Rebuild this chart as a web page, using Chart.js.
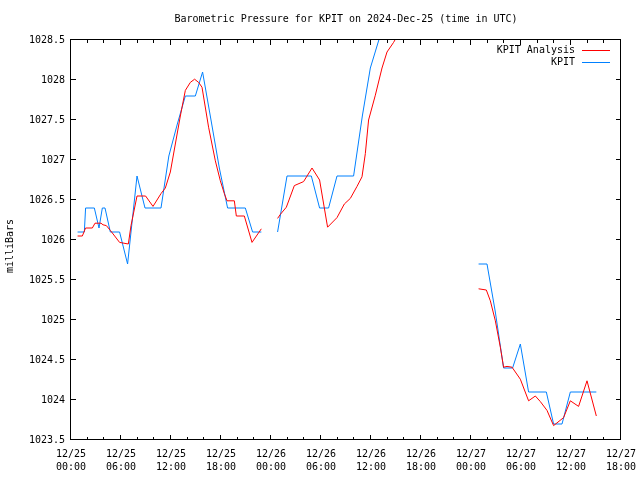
<!DOCTYPE html>
<html>
<head>
<meta charset="utf-8">
<script src="https://cdn.jsdelivr.net/npm/chart.js@4/dist/chart.umd.min.js"></script>
<style>
  html, body { margin: 0; padding: 0; background: #fff; }
  canvas { display: block; }
</style>
</head>
<body>
<canvas class="chartBaro" width="640" height="480"></canvas>
<script>
// hours since 12/25 00:00 UTC, null = gap in the data
const analysisHours = [0.79, 1.36, 1.75, 2.56, 2.88, 3.60, 3.84, 4.24, 4.72, 5.83,
  6.88, 7.20, 7.92, 8.95, 9.84, 10.80, 11.32, 11.92, 12.52, 13.12,
  13.72, 14.32, 14.83, 15.31, 15.72, 16.51, 17.32, 17.92, 18.40, 18.72,
  19.60, 19.84, 20.80, 21.72, 22.84, 23.7,
  24.79, 25.12, 25.84, 26.80, 27.91, 28.92, 29.83, 30.79, 31.92, 32.80,
  33.52, 34.32, 34.92, 35.32, 35.71, 36.52, 37.32, 37.92, 38.71, 39.52, 44,
  48.91, 49.84, 50.32, 50.92, 51.52, 51.91, 52.32, 52.92, 53.92, 54.91,
  55.72, 56.32, 57.12, 57.91, 59.11, 59.92, 60.91, 61.92, 63.04];
const analysisMb = [1026.05, 1026.05, 1026.15, 1026.15, 1026.21, 1026.21, 1026.19, 1026.18, 1026.12, 1025.97,
  1025.95, 1026.18, 1026.55, 1026.55, 1026.42, 1026.58, 1026.65, 1026.85, 1027.2, 1027.55,
  1027.87, 1027.97, 1028.01, 1027.97, 1027.91, 1027.41, 1026.99, 1026.74, 1026.58, 1026.49,
  1026.49, 1026.30, 1026.30, 1025.97, 1026.14, null,
  1026.27, 1026.32, 1026.41, 1026.68, 1026.73, 1026.90, 1026.75, 1026.16, 1026.28, 1026.45,
  1026.52, 1026.67, 1026.79, 1027.08, 1027.5, 1027.81, 1028.15, 1028.35, 1028.47, 1028.62, null,
  1025.39, 1025.375, 1025.24, 1024.99, 1024.66, 1024.41, 1024.42, 1024.41, 1024.26, 1023.99,
  1024.05, 1023.98, 1023.87, 1023.68, 1023.78, 1023.99, 1023.92, 1024.24, 1023.80];

const kpitHours = [0.79, 1.60, 1.75, 2.80, 3.36, 3.76, 4.08, 4.72, 5.83, 6.79,
  7.92, 8.88, 10.80, 11.74, 12.76, 13.72, 14.92, 15.79, 16.80, 17.80,
  18.79, 20.92, 21.79, 22.84, 23.7,
  24.79, 25.92, 28.84, 29.83, 30.91, 31.92, 33.91, 34.96, 35.92, 36.94, 37.96, 44,
  48.91, 49.92, 50.92, 51.91, 52.99, 53.92, 54.91, 57.04, 57.91, 58.92, 59.92, 63.04];
const kpitMb = [1026.1, 1026.1, 1026.4, 1026.4, 1026.15, 1026.4, 1026.4, 1026.1, 1026.1, 1025.7,
  1026.8, 1026.4, 1026.4, 1027.05, 1027.45, 1027.8, 1027.8, 1028.1, 1027.5, 1026.9,
  1026.4, 1026.4, 1026.1, 1026.1, null,
  1026.1, 1026.8, 1026.8, 1026.4, 1026.4, 1026.8, 1026.8, 1027.55, 1028.15, 1028.5, 1028.8, null,
  1025.7, 1025.7, 1025.1, 1024.4, 1024.4, 1024.7, 1024.1, 1024.1, 1023.7, 1023.7, 1024.1, 1024.1];

const startDay = 25; // 12/25
const xMin = 0, xMax = 66, xMajor = 6, xMinor = 2;
const yMin = 1023.5, yMax = 1028.5, yStep = 0.5;

const FONT = 'DejaVu Sans Mono';

// gnuplot-like frame, inward ticks, title, ylabel and key
const gnuFrame = {
  id: 'gnuFrame',
  afterDatasetsDraw(chart) {
    const { ctx, chartArea: a, scales: { x, y } } = chart;
    ctx.save();
    ctx.strokeStyle = '#000';
    ctx.lineWidth = 1;
    ctx.beginPath();
    for (let h = xMin; h <= xMax; h += xMinor) {
      const px = Math.round(x.getPixelForValue(h)) - 0.5;
      const len = h % xMajor === 0 ? 5 : 3;
      ctx.moveTo(px, a.bottom); ctx.lineTo(px, a.bottom - len);
      ctx.moveTo(px, a.top); ctx.lineTo(px, a.top + len);
    }
    for (let v = yMin; v <= yMax + 1e-6; v += yStep) {
      const py = Math.round(y.getPixelForValue(v)) - 0.5;
      ctx.moveTo(a.left, py); ctx.lineTo(a.left + 5, py);
      ctx.moveTo(a.right, py); ctx.lineTo(a.right - 5, py);
    }
    ctx.stroke();
    ctx.strokeRect(a.left - 0.5, a.top - 0.5, a.right - a.left, a.bottom - a.top);

    ctx.fillStyle = '#000';
    ctx.font = '10px "' + FONT + '"';
    ctx.textBaseline = 'middle';
    ctx.textAlign = 'center';
    ctx.fillText('Barometric Pressure for KPIT on 2024-Dec-25 (time in UTC)', (a.left + a.right) / 2, 19);

    ctx.save();
    ctx.translate(10, (a.top + a.bottom) / 2 + 6);
    ctx.rotate(-Math.PI / 2);
    ctx.fillText('milliBars', 0, 0);
    ctx.restore();

    // key
    ctx.textAlign = 'right';
    chart.data.datasets.forEach((ds, i) => {
      const ky = 50 + i * 12;
      ctx.fillText(ds.label, 575, ky);
      ctx.strokeStyle = ds.borderColor;
      ctx.beginPath();
      ctx.moveTo(582, ky + 0.5); ctx.lineTo(610, ky + 0.5);
      ctx.stroke();
    });
    ctx.restore();
  }
};

document.addEventListener('DOMContentLoaded', () => {
  new Chart(
    document.querySelector('.chartBaro'),
    {
      type: 'line',
      data: {
        datasets: [
          {
            label: 'KPIT Analysis',
            data: analysisHours.map((h, i) => ({ x: h, y: analysisMb[i] })),
            borderColor: '#ff0000',
            borderWidth: 1,
            pointRadius: 0,
            tension: 0,
            spanGaps: false,
            clip: 0
          },
          {
            label: 'KPIT',
            data: kpitHours.map((h, i) => ({ x: h, y: kpitMb[i] })),
            borderColor: '#0080ff',
            borderWidth: 1,
            pointRadius: 0,
            tension: 0,
            spanGaps: false,
            clip: 0
          }
        ]
      },
      options: {
        responsive: false,
        animation: false,
        events: [],
        layout: { padding: { left: 0, right: 19, top: 40, bottom: 0 } },
        plugins: { legend: { display: false }, tooltip: { enabled: false }, title: { display: false } },
        scales: {
          x: {
            type: 'linear',
            min: xMin,
            max: xMax,
            grid: { display: false, drawTicks: false },
            border: { display: false },
            afterFit: (s) => { s.height = 40; s.paddingLeft = 0; s.paddingRight = 0; },
            ticks: {
              stepSize: xMajor,
              autoSkip: false,
              maxRotation: 0,
              padding: 8,
              color: '#000',
              font: { family: FONT, size: 10, lineHeight: 1.3 },
              callback: (v) => {
                const day = startDay + Math.floor(v / 24);
                const hr = v % 24;
                return ['12/' + day, String(hr).padStart(2, '0') + ':00'];
              }
            }
          },
          y: {
            min: yMin,
            max: yMax,
            grid: { display: false, drawTicks: false },
            border: { display: false },
            afterFit: (s) => { s.width = 71; s.paddingTop = 0; s.paddingBottom = 0; },
            ticks: {
              stepSize: yStep,
              padding: 6,
              color: '#000',
              font: { family: FONT, size: 10 },
              callback: (v) => String(Number(v.toFixed(1)))
            }
          }
        }
      },
      plugins: [gnuFrame]
    }
  );
});
</script>
</body>
</html>
